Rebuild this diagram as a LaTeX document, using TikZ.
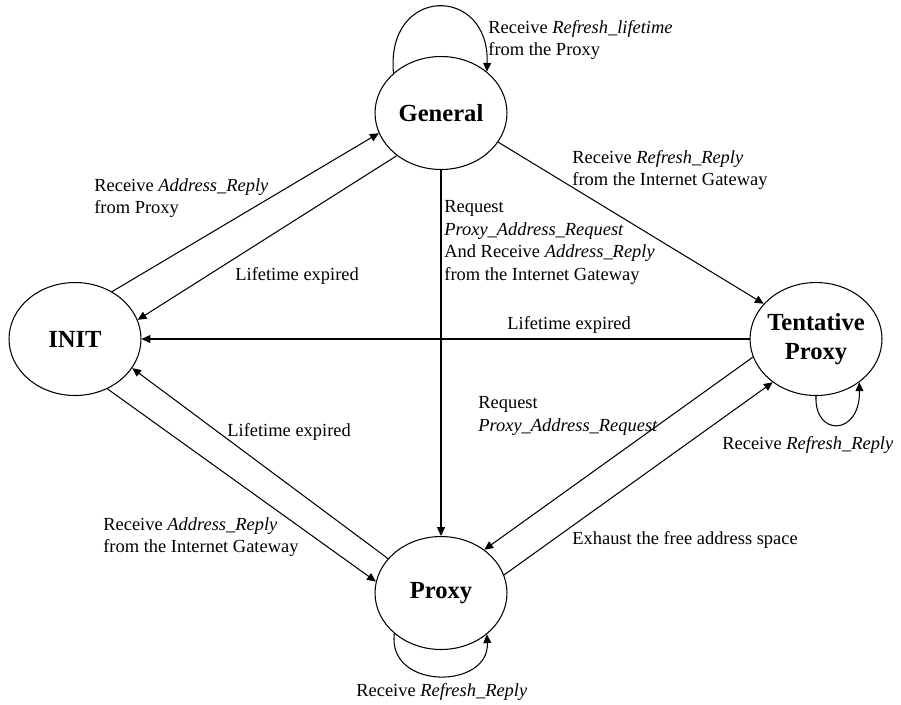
\documentclass[tikz,border=0pt]{standalone}
\usepackage{fontspec}
\setmainfont{Liberation Serif}
\usetikzlibrary{shapes.geometric,arrows.meta}

\begin{document}
\begin{tikzpicture}[x=0.02cm,y=-0.02cm,
    state/.style={draw,ellipse,line width=0.6pt,minimum width=2.64cm,minimum height=2.26cm,
      inner xsep=-3pt,inner ysep=0pt,align=center,font=\fontsize{14}{16.5}\selectfont\bfseries},
    trans/.style={line width=0.6pt,-{Triangle[length=5pt,width=4.5pt]}},
    lbl/.style={anchor=west,inner sep=0pt,align=left,font=\fontsize{10.5}{13}\selectfont}]

            \useasboundingbox (0,0) rectangle (901,704);

            % the four states
            \node[state] (general) at (441,113) {General};
            \node[state] (init) at (75,339) {INIT};
            \node[state] (tent) at (816,339) {Tentative\\Proxy};
            \node[state] (proxy) at (441,593) {Proxy};

            % INIT <-> General
            \draw[trans] (init.52) -- (general.198);
            \node[lbl] (addrproxy) at (94,198) {Receive \textit{Address\_Reply}\\from Proxy};
            \draw[trans] (general.224) -- (init.17);
            \node[lbl] (lifegen) at (235,276) {Lifetime expired};

            % General -> Proxy
            \draw[trans] (general.south) -- (proxy.north);
            \node[lbl] (reqgen) at (444,242.5) {Request\\\textit{Proxy\_Address\_Request}\\And Receive \textit{Address\_Reply}\\from the Internet Gateway};

            % General -> Tentative Proxy
            \draw[trans] (general.333) -- (tent.146);
            \node[lbl] (refreshgw) at (572,170) {Receive \textit{Refresh\_Reply}\\from the Internet Gateway};

            % Tentative Proxy -> INIT
            \draw[trans] (tent.west) -- (init.east);
            \node[lbl] (lifetent) at (507,325) {Lifetime expired};

            % Tentative Proxy <-> Proxy
            \draw[trans] (tent.196) -- (proxy.45);
            \node[lbl] (reqtent) at (478,416) {Request\\\textit{Proxy\_Address\_Request}};
            \draw[trans] (proxy.16) -- (tent.225);
            \node[lbl] (exhaust) at (572,540) {Exhaust the free address space};

            % Proxy <-> INIT
            \draw[trans] (proxy.147) -- (init.333);
            \node[lbl] (lifeproxy) at (227,432) {Lifetime expired};
            \draw[trans] (init.303) -- (proxy.170);
            \node[lbl] (addrgw) at (103,537) {Receive \textit{Address\_Reply}\\from the Internet Gateway};

            % self loops
            \draw[trans] (general.140) .. controls +(-8,-88) and +(3,-87) .. (general.42);
            \node[lbl] (refreshlife) at (488,40) {Receive \textit{Refresh\_lifetime}\\from the Proxy};

            \draw[trans] (tent.270) .. controls +(-2,41) and +(1,54) .. (tent.315);
            \node[lbl] (refreshtent) at (722,445) {Receive \textit{Refresh\_Reply}};

            \draw[trans] (proxy.221) .. controls +(-7,57) and +(3,55) .. (proxy.318);
            \node[lbl] (refreshproxy) at (356,692) {Receive \textit{Refresh\_Reply}};

\end{tikzpicture}
\end{document}
